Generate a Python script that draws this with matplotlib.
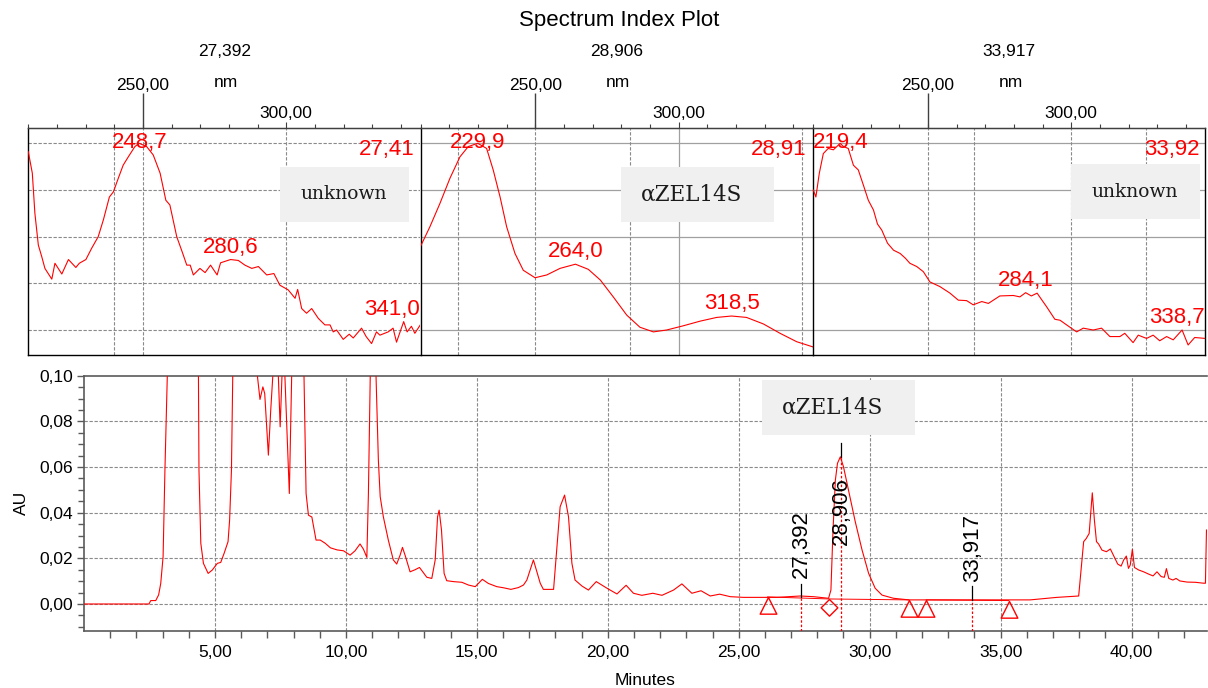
import numpy as np
import matplotlib
matplotlib.use("Agg")
import matplotlib.pyplot as plt
from matplotlib.path import Path
from matplotlib.patches import Rectangle

plt.rcParams['font.family'] = ['Liberation Sans', 'DejaVu Sans']

# ---------------- chromatogram (AU vs minutes) ----------------
chrom_time = [0.00, 2.48, 2.55, 2.74, 2.85, 2.93, 3.02, 3.09, 3.18, 3.30, 4.25, 4.37, 4.39,
              4.46, 4.56, 4.74, 4.90, 5.09, 5.22, 5.35, 5.50, 5.56, 5.63, 5.68, 5.80, 6.50,
              6.62, 6.72, 6.83, 6.90, 7.04, 7.13, 7.21, 7.30, 7.38, 7.42, 7.49, 7.56, 7.62,
              7.67, 7.84, 7.93, 8.00, 8.32, 8.40, 8.48, 8.57, 8.70, 8.86, 9.02, 9.21, 9.41,
              9.66, 9.91, 10.16, 10.35, 10.54, 10.67, 10.80, 10.86, 10.93, 11.00, 11.10,
              11.15, 11.24, 11.31, 11.43, 11.62, 11.81, 11.94, 12.07, 12.16, 12.27, 12.45,
              12.64, 12.81, 13.09, 13.28, 13.41, 13.50, 13.56, 13.65, 13.75, 13.85, 14.11,
              14.43, 14.68, 14.94, 15.21, 15.44, 15.76, 16.02, 16.30, 16.59, 16.78, 16.91,
              17.16, 17.42, 17.54, 17.93, 18.06, 18.18, 18.35, 18.50, 18.63, 18.75, 19.01,
              19.26, 19.56, 19.97, 20.35, 20.70, 20.98, 21.30, 21.72, 22.07, 22.51, 22.83,
              23.21, 23.56, 23.91, 24.27, 24.68, 25.18, 26.46, 27.35, 27.86, 28.43, 28.52,
              28.60, 28.69, 28.77, 28.88, 29.00, 29.19, 29.45, 29.71, 29.96, 30.21, 30.47,
              30.91, 31.50, 35.50, 36.13, 37.15, 37.98, 38.07, 38.17, 38.27, 38.38, 38.45,
              38.50, 38.58, 38.66, 38.74, 38.87, 39.04, 39.19, 39.32, 39.47, 39.60, 39.70,
              39.80, 39.88, 39.95, 40.03, 40.11, 40.27, 40.46, 40.65, 40.82, 40.97, 41.13,
              41.25, 41.33, 41.42, 41.58, 41.70, 41.84, 42.12, 42.44, 42.75, 42.82, 42.86]
chrom_au = [0.0000, 0.0000, 0.0015, 0.0015, 0.0040, 0.0090, 0.0207, 0.0586, 0.0995, 0.1300,
            0.1300, 0.1000, 0.0586, 0.0266, 0.0178, 0.0134, 0.0149, 0.0178, 0.0182, 0.0222,
            0.0273, 0.0368, 0.0586, 0.1000, 0.1300, 0.1300, 0.1000, 0.0896, 0.0951, 0.0922,
            0.0652, 0.0849, 0.1000, 0.1200, 0.1200, 0.1000, 0.0776, 0.1000, 0.1100, 0.1000,
            0.0484, 0.1000, 0.1300, 0.1300, 0.1000, 0.0484, 0.0389, 0.0381, 0.0280, 0.0280,
            0.0266, 0.0246, 0.0237, 0.0233, 0.0214, 0.0233, 0.0263, 0.0240, 0.0204, 0.0484,
            0.1000, 0.1300, 0.1300, 0.1000, 0.0630, 0.0470, 0.0382, 0.0280, 0.0193, 0.0175,
            0.0214, 0.0248, 0.0210, 0.0141, 0.0150, 0.0160, 0.0117, 0.0112, 0.0193, 0.0382,
            0.0411, 0.0324, 0.0134, 0.0102, 0.0098, 0.0095, 0.0083, 0.0076, 0.0108, 0.0090,
            0.0076, 0.0071, 0.0064, 0.0072, 0.0083, 0.0105, 0.0193, 0.0091, 0.0064, 0.0064,
            0.0251, 0.0426, 0.0477, 0.0382, 0.0178, 0.0105, 0.0079, 0.0061, 0.0098, 0.0069,
            0.0044, 0.0082, 0.0047, 0.0038, 0.0047, 0.0038, 0.0061, 0.0088, 0.0047, 0.0058,
            0.0035, 0.0043, 0.0032, 0.0029, 0.0029, 0.0035, 0.0032, 0.0025, 0.0061, 0.0324,
            0.0543, 0.0616, 0.0645, 0.0601, 0.0499, 0.0360, 0.0236, 0.0134, 0.0069, 0.0039,
            0.0025, 0.0018, 0.0018, 0.0018, 0.0029, 0.0035, 0.0149, 0.0273, 0.0287, 0.0309,
            0.0411, 0.0487, 0.0368, 0.0273, 0.0263, 0.0236, 0.0229, 0.0241, 0.0210, 0.0175,
            0.0166, 0.0193, 0.0210, 0.0156, 0.0171, 0.0239, 0.0160, 0.0149, 0.0141, 0.0131,
            0.0123, 0.0141, 0.0120, 0.0117, 0.0155, 0.0112, 0.0105, 0.0112, 0.0101, 0.0096,
            0.0095, 0.0091, 0.0091, 0.0324]

x_ticks = [5, 10, 15, 20, 25, 30, 35, 40]
x_tick_labels = ['5,00', '10,00', '15,00', '20,00', '25,00', '30,00', '35,00', '40,00']
y_ticks = [0.00, 0.02, 0.04, 0.06, 0.08, 0.10]
y_tick_labels = ['0,00', '0,02', '0,04', '0,06', '0,08', '0,10']

# spectrum index markers: retention time, tick bottom, tick top, label bottom
index_times = [27.392, 28.906, 33.917]
index_labels = ['27,392', '28,906', '33,917']
index_signal = [0.0031, 0.0645, 0.0018]
index_tick_top = [0.0088, 0.0705, 0.0079]
index_label_bottom = [0.0114, 0.0258, 0.0098]

# integration events
tri_times = [26.10, 31.49, 32.16, 35.31]
tri_levels = [0.0031, 0.0018, 0.0018, 0.0015]
diamond_time = [28.46]
diamond_level = [0.0022]

# ---------------- UV spectra (relative absorbance, grid units) ----------------
spec1_nm = [210.0, 211.4, 212.3, 213.5, 214.7, 215.8, 218.2, 219.3, 221.7, 224.0, 226.6, 227.8,
            230.1, 232.1, 234.4, 236.2, 238.3, 239.7, 241.4, 243.1, 244.9, 247.2, 248.7, 251.3,
            253.6, 256.0, 258.0, 259.4, 261.8, 263.9, 265.3, 266.5, 267.6, 269.9, 271.7, 273.6,
            275.9, 277.1, 280.6, 283.3, 285.6, 288.0, 290.3, 293.2, 295.7, 297.8, 300.7, 303.1,
            304.0, 305.4, 307.1, 308.9, 311.2, 313.5, 315.3, 316.4, 317.6, 319.9, 322.0, 323.4,
            326.3, 327.9, 329.8, 331.5, 332.7, 335.6, 337.3, 338.5, 341.0, 342.2, 343.7, 344.9,
            346.8]
spec1_abs = [3.82, 3.36, 2.50, 1.82, 1.57, 1.32, 1.09, 1.43, 1.20, 1.51, 1.34, 1.43,
             1.51, 1.75, 2.00, 2.36, 2.85, 2.96, 3.25, 3.53, 3.71, 3.93, 4.00, 3.93,
             3.75, 3.36, 2.78, 2.68, 2.00, 1.64, 1.39, 1.39, 1.18, 1.32, 1.23, 1.39,
             1.18, 1.44, 1.51, 1.49, 1.39, 1.32, 1.36, 1.18, 1.21, 0.96, 0.86, 0.68,
             0.87, 0.46, 0.36, 0.46, 0.25, 0.11, 0.11, -0.04, 0.00, -0.20, -0.09, -0.17,
             0.04, -0.14, -0.29, -0.04, -0.11, -0.04, 0.04, -0.26, 0.18, -0.04, 0.08, -0.07,
             0.11]

spec2_nm = [210.0, 213.2, 216.7, 220.2, 223.7, 226.6, 229.9, 233.0, 235.3, 237.7, 240.0, 242.9,
            245.8, 249.9, 254.0, 258.6, 264.0, 268.5, 272.7, 277.2, 281.9, 286.5, 291.2, 295.8,
            301.6, 307.5, 313.3, 318.5, 323.7, 329.6, 335.4, 341.2, 346.8]
spec2_abs = [1.80, 2.21, 2.71, 3.25, 3.71, 3.93, 4.00, 3.89, 3.43, 2.85, 2.21, 1.64,
             1.28, 1.12, 1.18, 1.32, 1.41, 1.30, 1.07, 0.71, 0.32, 0.06, -0.04, 0.00,
             0.09, 0.19, 0.27, 0.30, 0.27, 0.13, -0.07, -0.25, -0.36]

spec3_nm = [210.0, 210.9, 212.1, 213.5, 215.2, 217.0, 219.4, 220.5, 222.2, 224.0, 225.7, 227.5,
            229.2, 231.0, 232.4, 233.9, 235.9, 238.0, 240.3, 242.1, 243.7, 246.1, 248.4, 250.7,
            254.2, 257.7, 260.6, 263.5, 265.8, 268.8, 271.1, 275.1, 279.8, 282.1, 284.1, 286.1,
            288.1, 291.4, 294.3, 296.1, 298.4, 301.9, 304.2, 307.7, 310.6, 313.5, 317.0, 318.7,
            321.6, 323.4, 326.3, 328.6, 330.9, 333.3, 335.6, 338.7, 340.8, 343.1, 346.8]
spec3_abs = [3.00, 2.85, 3.36, 3.78, 3.89, 3.86, 4.00, 3.93, 3.89, 3.53, 3.43, 3.10,
             2.78, 2.57, 2.27, 2.14, 1.86, 1.71, 1.64, 1.54, 1.43, 1.36, 1.25, 1.03,
             0.93, 0.79, 0.64, 0.63, 0.54, 0.61, 0.57, 0.73, 0.74, 0.71, 0.80, 0.73,
             0.79, 0.50, 0.23, 0.21, 0.11, -0.04, 0.04, 0.00, 0.04, -0.14, -0.14, -0.07,
             -0.27, -0.11, -0.18, -0.11, -0.23, -0.14, -0.21, 0.00, -0.32, -0.16, -0.18]

spectra_nm = [spec1_nm, spec2_nm, spec3_nm]
spectra_abs = [spec1_abs, spec2_abs, spec3_abs]
spectra_rt = ['27,392', '28,906', '33,917']
spectra_rt_short = ['27,41', '28,91', '33,92']
spectra_names = ['unknown', 'αZEL14S', 'unknown']
peak_nm = [[248.7, 280.6, 341.0], [229.9, 264.0, 318.5], [219.4, 284.1, 338.7]]
peak_lab = [['248,7', '280,6', '341,0'], ['229,9', '264,0', '318,5'], ['219,4', '284,1', '338,7']]
spec_vgrid_dashed = [[240, 250, 300], [223, 250, 283, 343], [250, 266, 300, 326]]
spec_vgrid_solid = [[], [300], []]
spec_hgrid_solid = [False, True, True]

W, H = 1208, 688
fig = plt.figure(figsize=(W / 100, H / 100), dpi=100)
RED = '#ff0000'
GRID = '#8a8a8a'
SPINE = '#404040'


def fx(px):
    return px / W


def fy(py):
    return 1 - py / H


fig.text(fx(618.7), fy(26), 'Spectrum Index Plot', fontsize=16, ha='center', va='baseline')

panel_left = [28.3, 420.7, 813.3]
panel_w = 392.0
p_top, p_bot = 127.7, 355.0
box_pos = [(0.642, 0.587, 0.329, 0.242, 0.806),
           (0.511, 0.587, 0.390, 0.242, 0.692),
           (0.657, 0.598, 0.3295, 0.242, 0.821)]
box_fs = [13.5, 15.5, 13.5]
NM_MAX = 346.8
LABEL_NM_MAX = 336.8

for i in range(3):
    ax = fig.add_axes([fx(panel_left[i]), fy(p_bot), panel_w / W, (p_bot - p_top) / H])
    ax.set_xlim(210, NM_MAX)
    ax.set_ylim(-0.535, 4.334)
    ax.set_yticks([])
    for s in ['left', 'bottom', 'right']:
        ax.spines[s].set_color('black')
        ax.spines[s].set_linewidth(1.0)
    ax.spines['top'].set_color(SPINE)
    ax.spines['top'].set_linewidth(1.0)
    if i < 2:
        ax.spines['right'].set_visible(False)

    # grid
    for g in range(5):
        if spec_hgrid_solid[i]:
            ax.axhline(g, color='#a0a0a0', lw=0.9, zorder=0.5)
        else:
            ax.axhline(g, color=GRID, lw=0.8, ls=(0, (3, 1.5)), zorder=0.5)
    for v in spec_vgrid_dashed[i]:
        ax.axvline(v, color=GRID, lw=0.8, ls=(0, (3, 1.5)), zorder=0.5)
    for v in spec_vgrid_solid[i]:
        ax.axvline(v, color='#a0a0a0', lw=0.9, zorder=0.5)

    # top wavelength axis: 300 on the main axis, 250 on a raised secondary row
    ax.xaxis.tick_top()
    ax.set_xticks([300], ['300,00'])
    ax.set_xticks(np.arange(210, 347, 10), minor=True)
    ax.tick_params(axis='x', which='minor', top=True, bottom=False, length=3, width=0.8, color=SPINE)
    ax.tick_params(axis='x', which='major', top=True, bottom=False, length=4.5, width=0.8,
                   color=SPINE, labelsize=12.5, pad=0.6)
    sec = ax.secondary_xaxis('top')
    sec.set_xticks([250], ['250,00'])
    sec.tick_params(axis='x', which='major', length=25, width=1.0, color=SPINE,
                    labelsize=12.5, pad=0.3)
    sec.xaxis.set_minor_locator(matplotlib.ticker.NullLocator())
    sec.spines['top'].set_color(SPINE)

    ax.text(0.504, 1.178, 'nm', transform=ax.transAxes, ha='center', va='baseline', fontsize=12.5)
    ax.text(0.50, 1.315, spectra_rt[i], transform=ax.transAxes, ha='center', va='baseline',
            fontsize=12.5)

    nm = np.array(spectra_nm[i])
    ab = np.array(spectra_abs[i])
    ax.plot(nm, ab, color=RED, lw=0.8, zorder=3)

    for pn, pl in zip(peak_nm[i], peak_lab[i]):
        yv = np.interp(pn, nm, ab)
        ax.annotate(pl, (min(pn, LABEL_NM_MAX), min(yv, 3.75)), xytext=(0, 9),
                    textcoords='offset points', ha='center', va='center', color=RED,
                    fontsize=16, zorder=4)
    ax.text(0.985, 0.905, spectra_rt_short[i], transform=ax.transAxes, ha='right', va='center',
            color=RED, fontsize=16)

    bx, by, bw, bh, tx = box_pos[i]
    ax.add_patch(Rectangle((bx, by), bw, bh, transform=ax.transAxes, facecolor='#f0f0f0',
                           edgecolor='none', zorder=2))
    ax.text(tx, by + bh / 2, spectra_names[i], transform=ax.transAxes, ha='center', va='center',
            fontsize=box_fs[i], family='DejaVu Serif', color='#1a1a1a', zorder=3)

# ---------------- chromatogram axes ----------------
c_left, c_right, c_top, c_bot = 84.0, 1207.0, 375.7, 630.7
axc = fig.add_axes([fx(c_left), fy(c_bot), (c_right - c_left) / W, (c_bot - c_top) / H])
axc.set_xlim(0, 42.88)
axc.set_ylim(-0.0117, 0.10)
for s in ['left', 'bottom', 'top']:
    axc.spines[s].set_color('#5a5a5a')
    axc.spines[s].set_linewidth(1.2)
axc.spines['right'].set_visible(False)

axc.set_xticks(x_ticks, x_tick_labels)
axc.set_xticks(np.arange(1, 43, 1), minor=True)
axc.set_yticks(y_ticks, y_tick_labels)
axc.set_yticks(np.arange(-0.010, 0.1001, 0.005), minor=True)
axc.tick_params(axis='both', which='both', color='#5a5a5a', width=1.0, labelsize=12.5)
axc.tick_params(axis='x', which='both', length=5, pad=5)
axc.tick_params(axis='y', which='major', length=5, pad=3)
axc.tick_params(axis='y', which='minor', length=4)

for v in x_ticks:
    axc.axvline(v, color=GRID, lw=0.8, ls=(0, (3, 1.5)), zorder=0.5)
for v in y_ticks[:-1]:
    axc.axhline(v, color=GRID, lw=0.8, ls=(0, (3, 1.5)), zorder=0.5)

axc.set_xlabel('Minutes', fontsize=12.5, labelpad=10)
axc.set_ylabel('AU', fontsize=12.5, labelpad=7)

axc.plot(chrom_time, chrom_au, color=RED, lw=0.8, zorder=3)

# integration baseline
axc.plot([tri_times[0], diamond_time[0], tri_times[1]],
         [tri_levels[0], diamond_level[0], tri_levels[1]], color=RED, lw=0.7, zorder=3)
axc.plot([tri_times[2], tri_times[3]], [tri_levels[2], tri_levels[3]], color=RED, lw=0.7, zorder=3)

tri_path = Path([(0, 0), (-0.5, -1), (0.5, -1), (0, 0)], closed=True)
dia_path = Path([(0, 0), (-0.5, -0.5), (0, -1), (0.5, -0.5), (0, 0)], closed=True)
axc.plot(tri_times, tri_levels, ls='none', marker=tri_path, markersize=24, mfc='none',
         mec=RED, mew=1.0, zorder=4, clip_on=False)
axc.plot(diamond_time, diamond_level, ls='none', marker=dia_path, markersize=24, mfc='none',
         mec=RED, mew=1.0, zorder=4, clip_on=False)

ymin = axc.get_ylim()[0]
for t, lab, sig, top, lb in zip(index_times, index_labels, index_signal, index_tick_top,
                                 index_label_bottom):
    axc.plot([t, t], [ymin, sig], color=RED, lw=0.9, ls=(0, (2, 1.5)), zorder=3)
    axc.plot([t, t], [sig, top], color='black', lw=0.9, zorder=3)
    axc.text(t, lb, lab, rotation=90, ha='center', va='bottom', fontsize=16, zorder=5)

# compound box on the chromatogram
axc.add_patch(Rectangle((0.604, 0.7686), 0.136, 0.2145, transform=axc.transAxes,
                        facecolor='#f0f0f0', edgecolor='none', zorder=2))
axc.text(0.6665, 0.876, 'αZEL14S', transform=axc.transAxes, ha='center', va='center',
         fontsize=15.5, family='DejaVu Serif', color='#1a1a1a', zorder=3)

fig.savefig('out.png', dpi=100)
